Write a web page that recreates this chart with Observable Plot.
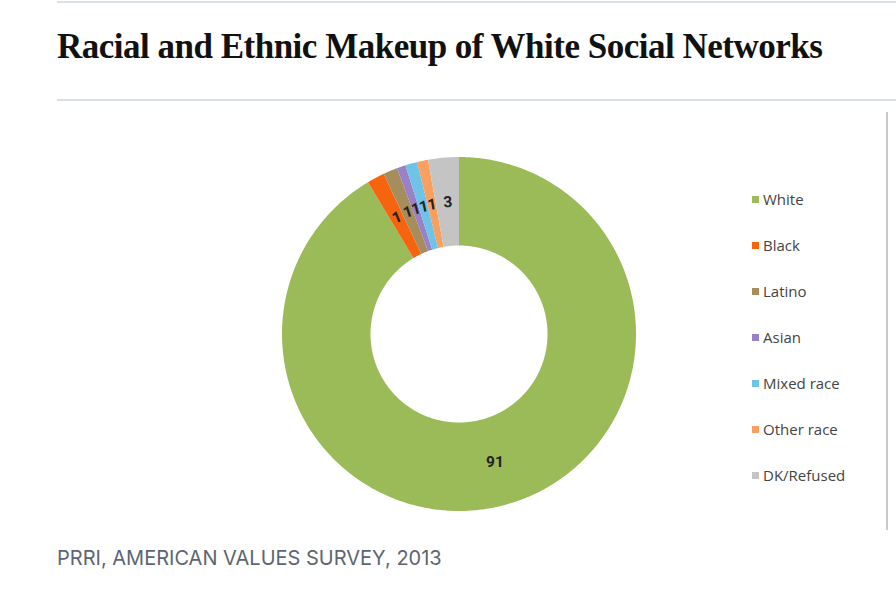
<!DOCTYPE html>
<html>
<head>
<meta charset="utf-8">
<script src="https://cdn.jsdelivr.net/npm/d3@7"></script>
<script src="https://cdn.jsdelivr.net/npm/@observablehq/plot@0.6"></script>
<style>
  html, body { margin: 0; padding: 0; background: #fff; }
  body { width: 896px; height: 591px; position: relative; overflow: hidden; }
  .rule { position: absolute; left: 57px; right: 0; height: 2px; background: #d8dfe8; }
  #title { position: absolute; left: 57px; top: 25px; margin: 0;
    font-family: "Liberation Serif", "DejaVu Serif", serif; font-weight: bold;
    font-size: 35px; line-height: 44px; color: #111; letter-spacing: -0.5px; white-space: nowrap; }
  #chart { position: absolute; left: 0; top: 104px; }
  #frame { position: absolute; left: 886px; top: 112px; width: 2px; height: 418px; background: #c9c9c9; }
  #legend { position: absolute; left: 752px; top: 176px; }
  #legend .lg-swatch { height: 46px; margin: 0 !important; padding: 0 !important; display: flex; align-items: center; }
  #legend .lg-swatch svg { margin-right: 4px !important; }
  #legend, #legend .lg-swatches { font-family: "Open Sans", "Lato", sans-serif; font-size: 15px; color: #444; }
  #caption { position: absolute; left: 57px; top: 546px; font-family: Inter, "Noto Sans", sans-serif;
    font-size: 20px; color: #5c6670; letter-spacing: 0px; }
</style>
</head>
<body>
<div class="rule" style="top:1px"></div>
<h1 id="title">Racial and Ethnic Makeup of White Social Networks</h1>
<div class="rule" style="top:99px"></div>
<div id="chart"></div>
<div id="frame"></div>
<div id="legend"></div>
<div id="caption">PRRI, AMERICAN VALUES SURVEY, 2013</div>
<script>
// ---- data ----
const categories = ["White", "Black", "Latino", "Asian", "Mixed race", "Other race", "DK/Refused"];
const values = [91.4, 1.6, 1.3, 0.8, 1.1, 1.0, 2.8];       // share of network (%)
const labels = ["91", "1", "1", "1", "1", "1", "3"];        // printed data labels
const colors = ["#9bbb59", "#f7640f", "#a68d5c", "#9a80c4", "#6ec3e6", "#f9a060", "#c4c4c4"];

// ---- derived geometry (angles from cumulative shares) ----
const total = d3.sum(values);
const innerR = 0.5, outerR = 1, labelR = 0.75;
let cum = 0;
const slices = categories.map((name, i) => {
  const a0 = cum / total * 2 * Math.PI;
  cum += values[i];
  const a1 = cum / total * 2 * Math.PI;
  return {name, value: values[i], label: labels[i], a0, a1, mid: (a0 + a1) / 2};
});
const samples = [];
for (const s of slices) {
  const n = Math.max(4, Math.ceil((s.a1 - s.a0) / 0.01));
  for (let k = 0; k <= n; k++) {
    const a = s.a0 + (s.a1 - s.a0) * k / n;
    samples.push({name: s.name, xi: innerR * Math.sin(a), yi: innerR * Math.cos(a),
                  xo: outerR * Math.sin(a), yo: outerR * Math.cos(a)});
  }
}
const labelData = slices.map(s => ({
  name: s.name, label: s.label,
  x: labelR * Math.sin(s.mid), y: labelR * Math.cos(s.mid),
  rot: s.mid > Math.PI * 1.5 ? (s.mid * 180 / Math.PI - 360) * 0.8 : 0
}));

const colorScale = {domain: categories, range: colors};

const chart = Plot.plot({
  width: 896, height: 431,
  marginLeft: 282, marginRight: 260, marginTop: 53, marginBottom: 24,
  x: {domain: [-1, 1], axis: null},
  y: {domain: [-1, 1], axis: null},
  color: colorScale,
  marks: [
    Plot.area(samples, {x1: "xi", y1: "yi", x2: "xo", y2: "yo", z: "name", fill: "name", curve: "linear"}),
    Plot.text(labelData, {x: "x", y: "y", text: "label", rotate: "rot",
      fontSize: 15.5, fontWeight: "bold", fill: "#222", fontFamily: "Roboto, sans-serif"})
  ]
});
document.getElementById("chart").appendChild(chart);

const legend = Plot.legend({color: colorScale, columns: 1, swatchSize: 7, className: "lg"});
document.getElementById("legend").appendChild(legend);
</script>
</body>
</html>
